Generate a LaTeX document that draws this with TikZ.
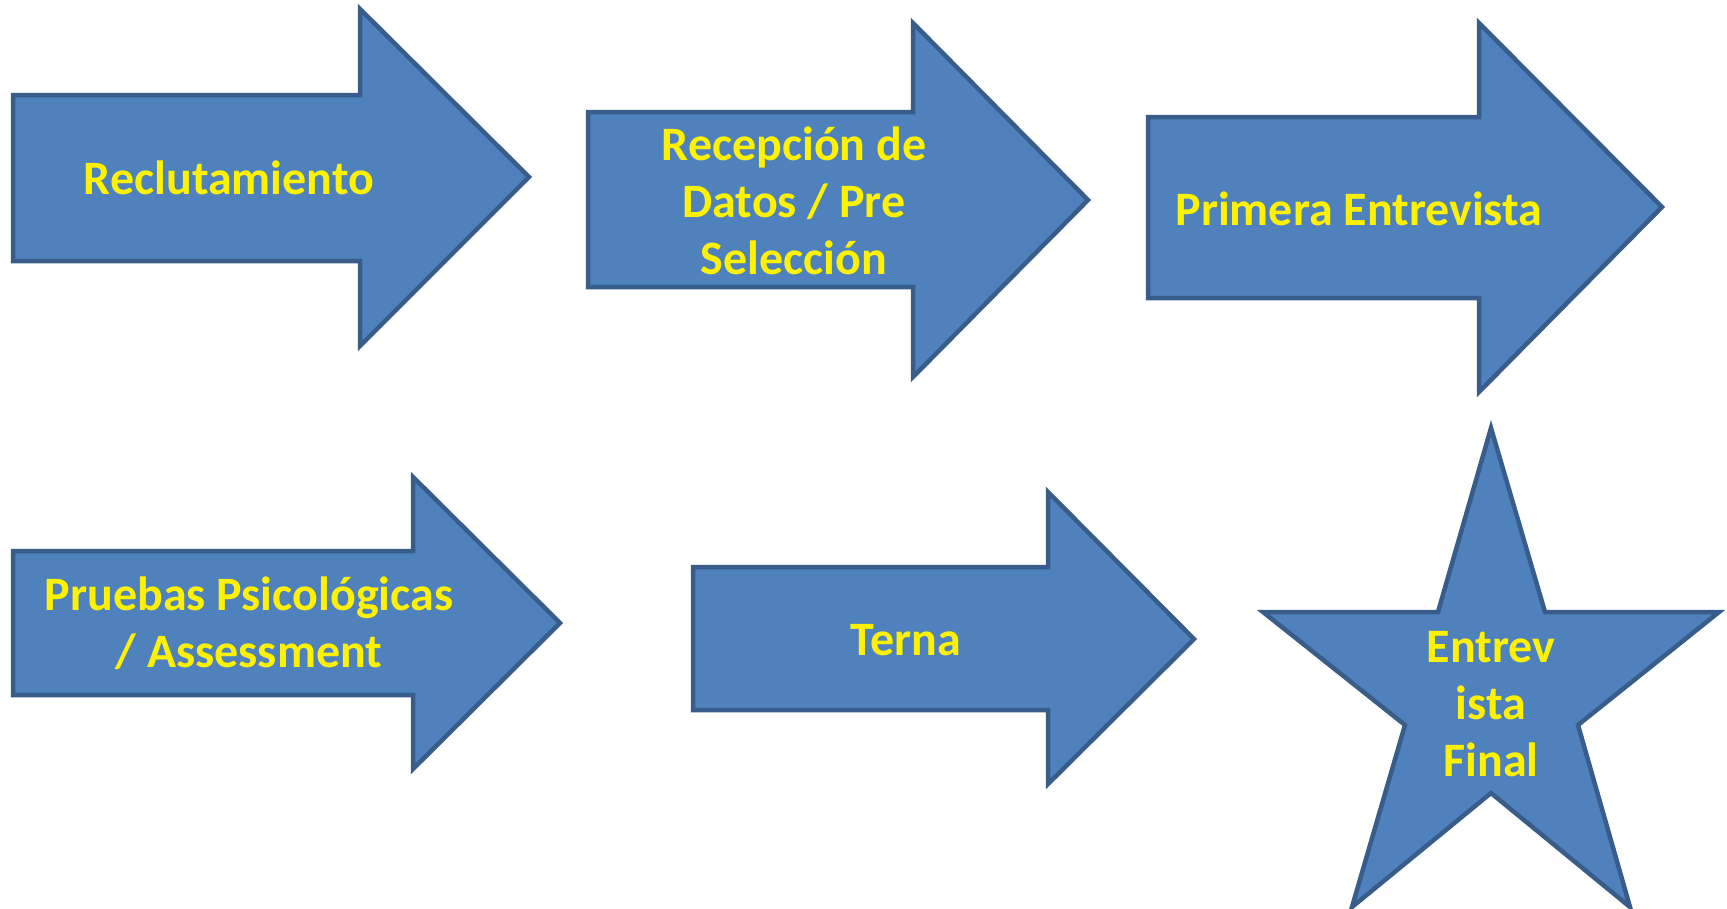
\documentclass[tikz,border=0pt]{standalone}
\usepackage{fontspec}
\setmainfont{Carlito}
\definecolor{arrowfill}{HTML}{4F81BD}
\definecolor{arrowline}{HTML}{385D8A}

\begin{document}
\begin{tikzpicture}[x=1pt, y=-1pt,
                    block/.style={fill=arrowfill,draw=arrowline,line width=4.5pt,line join=miter},
                    step text/.style={text=yellow,align=center,inner sep=0pt,
                                      font=\bfseries\fontsize{48}{57}\selectfont}]

  \useasboundingbox (0,0) rectangle (1727,908);

  % top row of arrows
  \draw[block] (13,95) -- (360,95) -- (360,9) -- (529,177) -- (360,346) -- (360,261) -- (13,261) -- cycle;
  \draw[block] (588,112) -- (913,112) -- (913,23) -- (1088,200) -- (913,377) -- (913,287) -- (588,287) -- cycle;
  \draw[block] (1148,117) -- (1479,117) -- (1479,23) -- (1662,207) -- (1479,392) -- (1479,298) -- (1148,298) -- cycle;

  % bottom row of arrows
  \draw[block] (13,551) -- (413,551) -- (413,477) -- (560,623) -- (413,769) -- (413,695) -- (13,695) -- cycle;
  \draw[block] (693,567) -- (1048,567) -- (1048,492) -- (1194,639) -- (1048,784) -- (1048,710) -- (693,710) -- cycle;

  % final star
  \draw[block] (1491,428) -- (1545,612) -- (1719,612) -- (1578,725) -- (1630,907)
            -- (1491,793) -- (1352,907) -- (1405,725) -- (1263,612) -- (1438,612) -- cycle;

  \node[step text] (reclut) at (229,178) {Reclutamiento};
  \node[step text] (recep) at (794,201) {Recepción de\\Datos / Pre\\Selección};
  \node[step text] (primera) at (1359,209) {Primera Entrevista};
  \node[step text] (pruebas) at (249,623) {Pruebas Psicológicas\\/ Assessment};
  \node[step text] (terna) at (906,640) {Terna};
  \node[step text] (final) at (1491,704) {Entrev\\ista\\Final};

\end{tikzpicture}
\end{document}
